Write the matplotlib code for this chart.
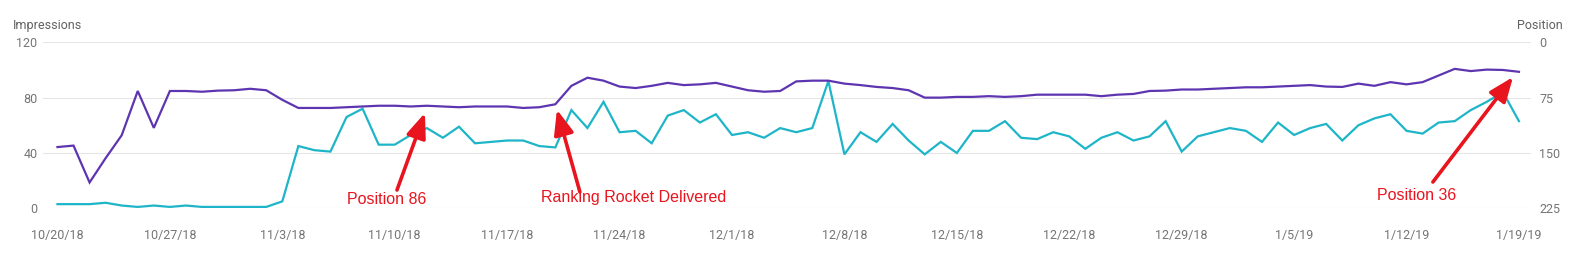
import matplotlib
matplotlib.use("Agg")
import matplotlib.pyplot as plt
import matplotlib.dates as mdates
import pandas as pd
import numpy as np

start_date = "2018-10-20"
end_date = "2019-01-19"

impressions = [3, 3, 3, 4, 2, 1, 2, 1, 2, 1, 1, 1, 1, 1, 5, 45, 42, 41, 66, 72,
               46, 46, 53, 58, 51, 59, 47, 48, 49, 49, 45, 44, 71, 58, 77, 55, 56, 47, 67, 71,
               62, 68, 53, 55, 51, 58, 55, 58, 92, 39, 55, 48, 61, 49, 39, 48, 40, 56, 56, 63,
               51, 50, 55, 52, 43, 51, 55, 49, 52, 63, 41, 52, 55, 58, 56, 48, 62, 53, 58, 61,
               49, 60, 65, 68, 56, 54, 62, 63, 71, 77, 84, 63]

position = [142, 140, 190, 157, 126, 66, 116, 66, 66, 67, 65.5, 65, 63, 65, 78, 89, 89, 89, 88, 87,
            86, 86, 87, 86, 87, 88, 87, 87, 87, 89, 88, 84, 59, 48, 52, 60, 62, 59, 55, 58,
            57, 55, 60, 65, 67, 66, 53, 52, 52, 56, 58, 60.5, 62, 65, 75, 75, 74, 74, 73, 74,
            73, 71, 71, 71, 71, 73, 71, 70, 66, 65.5, 64, 64, 63, 62, 61, 61, 60, 59, 58, 60,
            60.5, 56, 59, 54, 57, 54, 45, 36, 39, 37, 37.5, 40]

left_ticks = [0, 40, 80, 120]
right_ticks = [0, 75, 150, 225]
tick_dates = pd.date_range(start_date, end_date, freq="7D")

dates = pd.date_range(start_date, end_date, freq="D")

PURPLE = "#5e35b1"
CYAN = "#1fb5c8"
RED = "#e8141e"
GREY = "#757575"

fig = plt.figure(figsize=(15.78, 2.56), dpi=100)
ax = fig.add_axes([43 / 1578, 1 - 208.3 / 256, (1531 - 43) / 1578, (208.3 - 42.3) / 256])
ax2 = ax.twinx()

ax.plot(dates, impressions, color=CYAN, lw=1.6, zorder=3, solid_joinstyle="miter")
ax2.plot(dates, position, color=PURPLE, lw=1.6, zorder=3, solid_joinstyle="miter")

ax.set_ylim(0, 120)
ax2.set_ylim(225, 0)
ax.set_yticks(left_ticks)
ax2.set_yticks(right_ticks)
x0 = mdates.date2num(dates[0])
ax.set_xlim(x0 - 0.9, mdates.date2num(dates[-1]) + 0.75)

ax.set_xticks(tick_dates)
ax.set_xticklabels([f"{d.month}/{d.day}/{d.strftime('%y')}" for d in tick_dates])

for a in (ax, ax2):
    for s in a.spines.values():
        s.set_visible(False)
    a.tick_params(length=0, colors=GREY, labelsize=9)
    for lab in a.get_xticklabels() + a.get_yticklabels():
        lab.set_fontfamily("Roboto")

ax.tick_params(axis="x", pad=15)
ax.tick_params(axis="y", pad=4)
ax2.tick_params(axis="y", pad=6)
ax.grid(axis="y", color="#e6e6e6", lw=0.8)
ax.set_axisbelow(True)
ax2.set_zorder(ax.get_zorder() + 1)
ax2.patch.set_visible(False)

fig.text(13 / 1578, 1 - 25.7 / 256, "Impressions", ha="left", va="center",
         fontsize=9, color="#616161", family="Roboto")
fig.text(1563 / 1578, 1 - 25.7 / 256, "Position", ha="right", va="center",
         fontsize=9, color="#616161", family="Roboto")

def d(offset):
    return x0 + offset

annots = [
    ("Position 86", (20.5, 6.0), (21.14, 13.2), (22.88, 68.9)),
    ("Ranking Rocket Delivered", (35.85, 8.0), (32.53, 11.8), (31.1, 71.3)),
    ("Position 36", (84.6, 9.5), (85.64, 19.0), (90.63, 94.9)),
]
for text, tpos, tail, tip in annots:
    ax.text(d(tpos[0]), tpos[1], text, ha="center", va="center", color=RED,
            fontsize=11.5, family="Liberation Sans", zorder=5)
    ax.annotate("", xy=(d(tip[0]), tip[1]), xytext=(d(tail[0]), tail[1]),
                arrowprops=dict(arrowstyle="-|>,head_length=0.75,head_width=0.3",
                                color=RED, lw=2.6, mutation_scale=20,
                                shrinkA=0, shrinkB=0),
                zorder=5, annotation_clip=False)

fig.savefig("out.png", dpi=100)
